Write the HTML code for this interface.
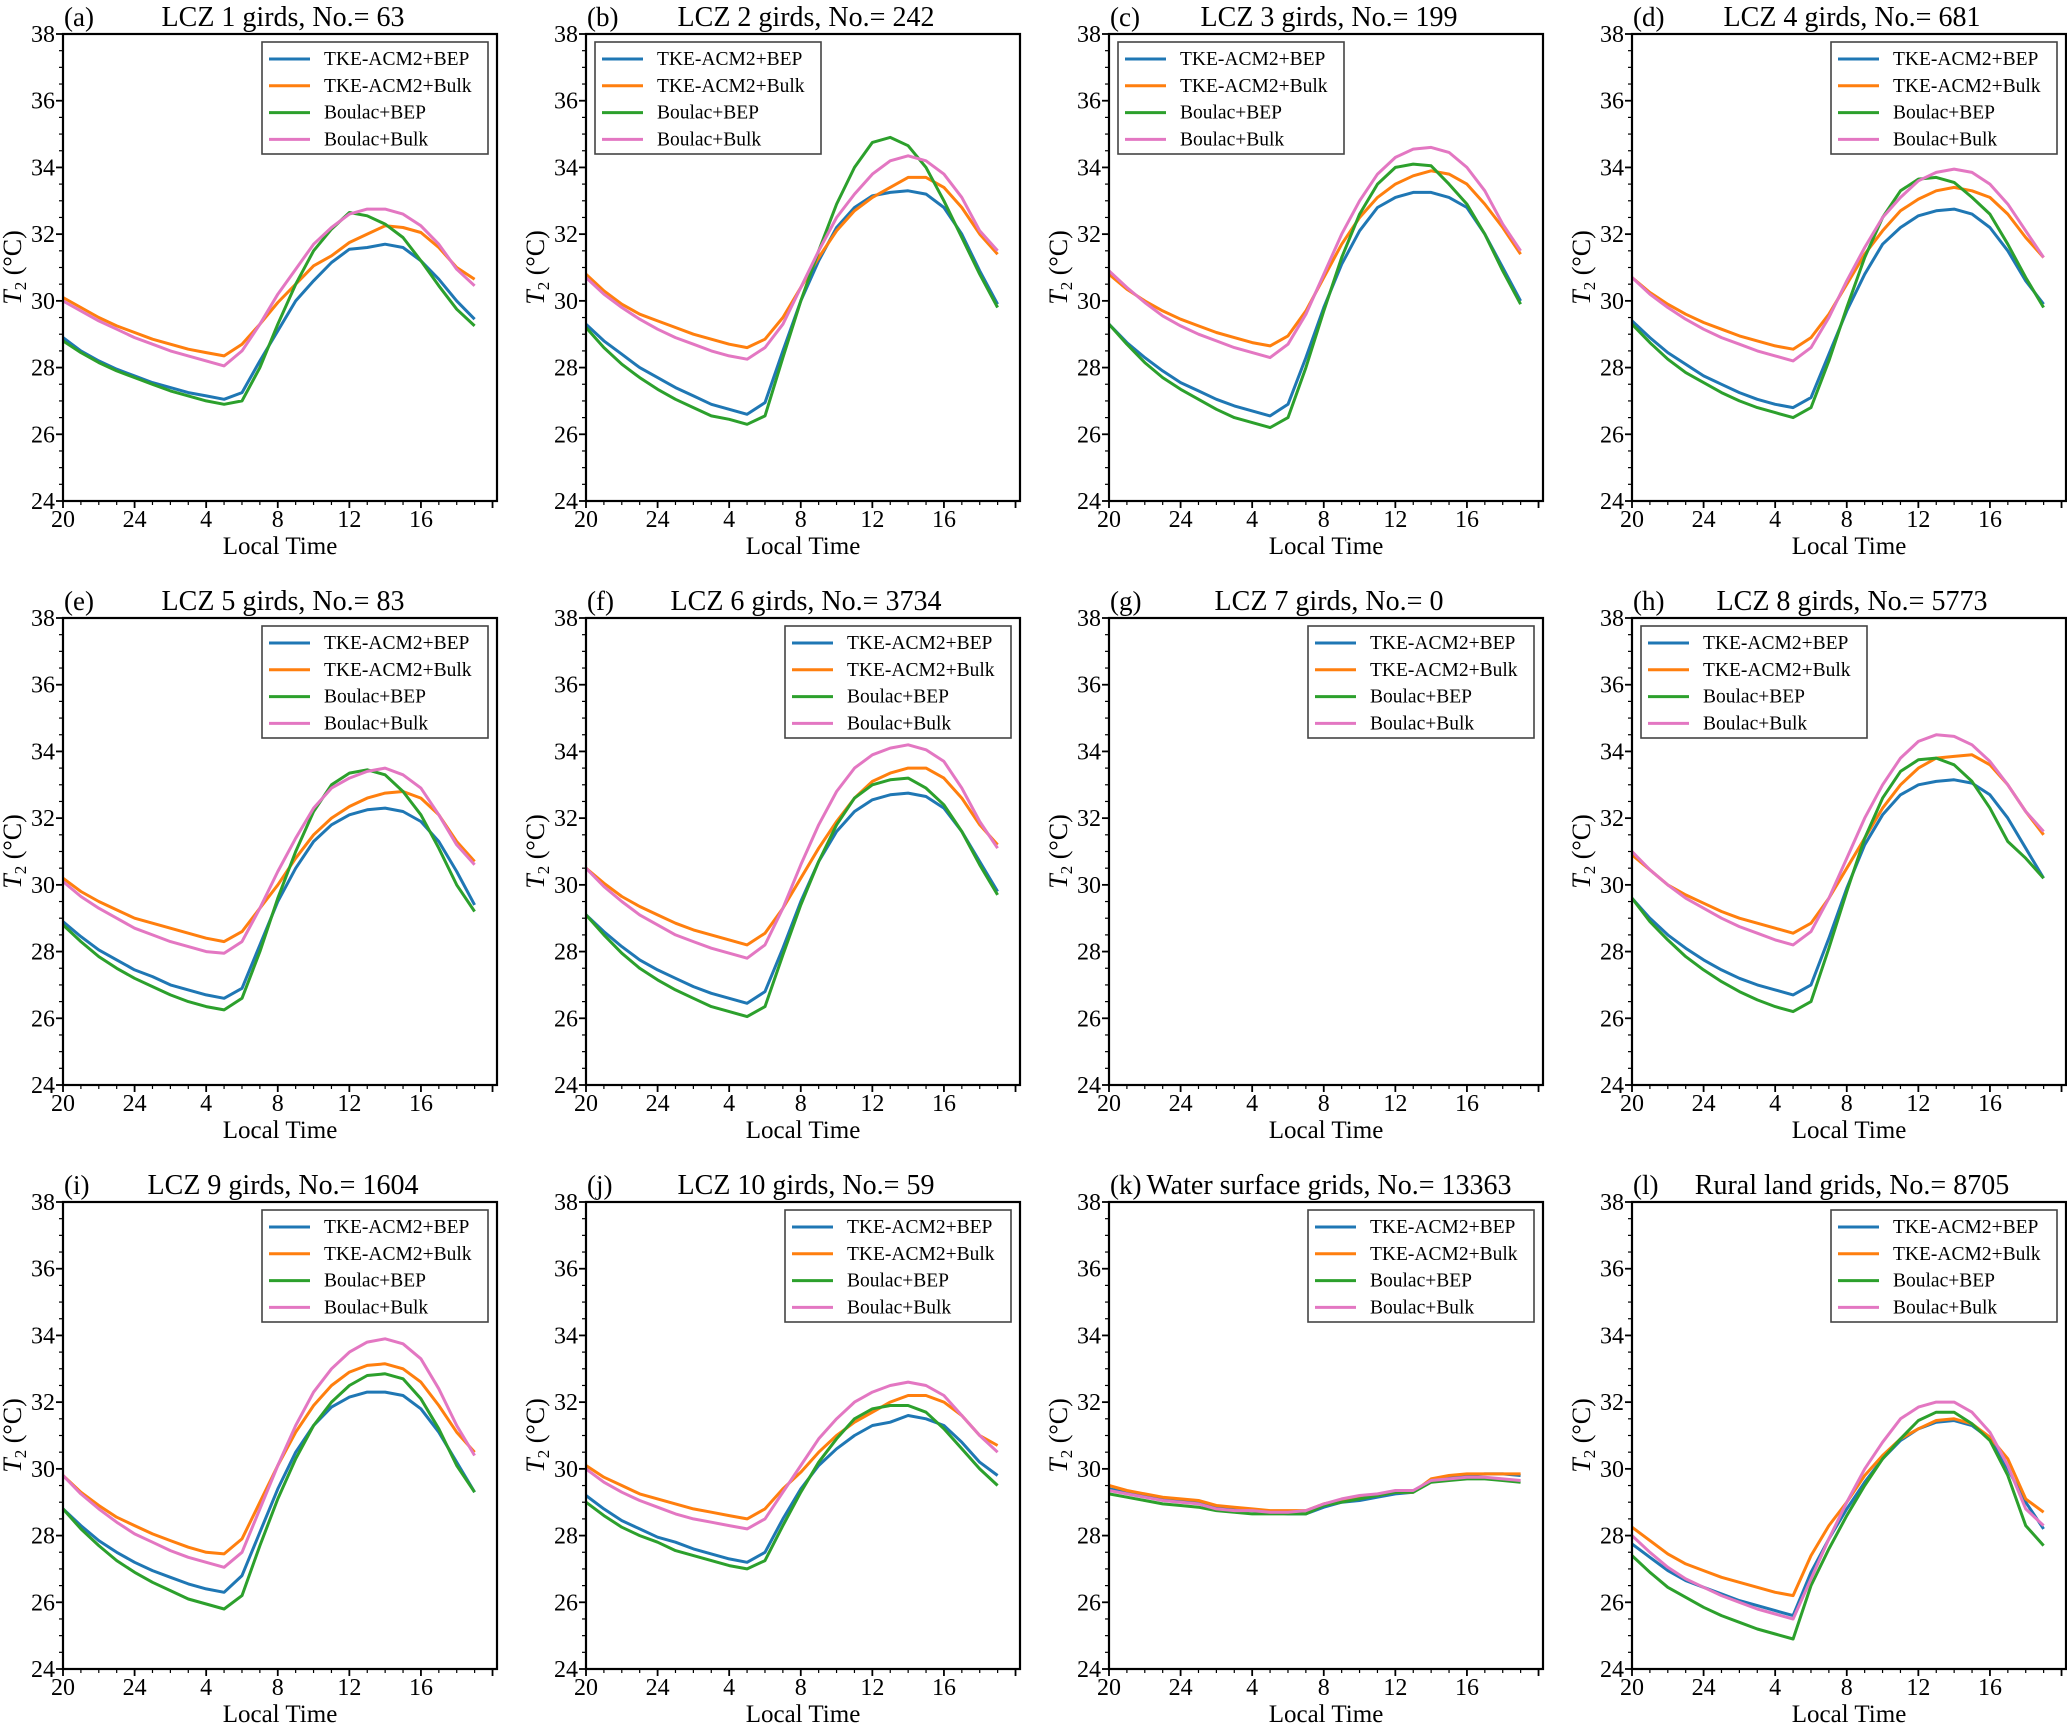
<!DOCTYPE html>
<html><head><meta charset="utf-8">
<style>
html,body{margin:0;padding:0;background:#fff;}
svg{display:block;font-family:"Liberation Serif",serif;}
</style></head>
<body>
<svg id="fig" width="2067" height="1724" viewBox="0 0 2067 1724" xmlns="http://www.w3.org/2000/svg"></svg>
<script>
const seriesNames = ["TKE-ACM2+BEP","TKE-ACM2+Bulk","Boulac+BEP","Boulac+Bulk"];
const seriesColors = ["#1f77b4","#ff7f0e","#2ca02c","#e377c2"];
const xTickPos = [0,4,8,12,16,20];
const xTickLabels = ["20","24","4","8","12","16"];
const yTicks = [24,26,28,30,32,34,36,38];
const panelLetters = ["(a)","(b)","(c)","(d)","(e)","(f)","(g)","(h)","(i)","(j)","(k)","(l)"];
const panelTitles = ["LCZ 1 girds, No.= 63","LCZ 2 girds, No.= 242","LCZ 3 girds, No.= 199","LCZ 4 girds, No.= 681","LCZ 5 girds, No.= 83","LCZ 6 girds, No.= 3734","LCZ 7 girds, No.= 0","LCZ 8 girds, No.= 5773","LCZ 9 girds, No.= 1604","LCZ 10 girds, No.= 59","Water surface grids, No.= 13363","Rural land grids, No.= 8705"];
const legendLeft = [false,true,true,false,false,false,false,true,false,false,false,false];

const aBlue=[28.9,28.5,28.2,27.95,27.75,27.55,27.4,27.25,27.15,27.05,27.25,28.2,29.1,30.0,30.6,31.15,31.55,31.6,31.7,31.6,31.2,30.65,30.0,29.45];
const aOrange=[30.1,29.8,29.5,29.25,29.05,28.85,28.7,28.55,28.45,28.35,28.7,29.3,29.95,30.5,31.05,31.35,31.75,32.0,32.25,32.2,32.05,31.6,31.0,30.65];
const aGreen=[28.8,28.45,28.15,27.9,27.7,27.5,27.3,27.15,27.0,26.9,27.0,28.0,29.3,30.5,31.5,32.15,32.65,32.55,32.3,31.9,31.2,30.45,29.75,29.25];
const aPink=[30.0,29.7,29.4,29.15,28.9,28.7,28.5,28.35,28.2,28.05,28.5,29.3,30.2,30.95,31.7,32.2,32.6,32.75,32.75,32.6,32.25,31.7,30.95,30.45];

const bBlue=[29.3,28.8,28.4,28.0,27.7,27.4,27.15,26.9,26.75,26.6,26.95,28.5,30.0,31.2,32.2,32.8,33.15,33.25,33.3,33.2,32.8,32.0,30.9,29.9];
const bOrange=[30.8,30.3,29.9,29.6,29.4,29.2,29.0,28.85,28.7,28.6,28.85,29.5,30.4,31.3,32.1,32.7,33.1,33.4,33.7,33.7,33.4,32.8,32.0,31.4];
const bGreen=[29.2,28.6,28.1,27.7,27.35,27.05,26.8,26.55,26.45,26.3,26.55,28.3,30.0,31.5,32.9,34.0,34.75,34.9,34.65,34.0,33.0,31.9,30.8,29.8];
const bPink=[30.7,30.2,29.8,29.45,29.15,28.9,28.7,28.5,28.35,28.25,28.6,29.3,30.4,31.5,32.5,33.2,33.8,34.2,34.35,34.2,33.8,33.1,32.1,31.5];

const cBlue=[29.3,28.75,28.3,27.9,27.55,27.3,27.05,26.85,26.7,26.55,26.9,28.3,29.8,31.1,32.1,32.8,33.1,33.25,33.25,33.1,32.8,32.0,31.0,30.0];
const cOrange=[30.8,30.35,30.0,29.7,29.45,29.25,29.05,28.9,28.75,28.65,28.95,29.7,30.7,31.7,32.5,33.1,33.5,33.75,33.9,33.8,33.5,32.9,32.2,31.4];
const cGreen=[29.3,28.7,28.15,27.7,27.35,27.05,26.75,26.5,26.35,26.2,26.5,28.0,29.7,31.3,32.6,33.5,34.0,34.1,34.05,33.5,32.9,32.0,30.9,29.9];
const cPink=[30.9,30.4,29.95,29.55,29.25,29.0,28.8,28.6,28.45,28.3,28.7,29.6,30.8,32.0,33.0,33.8,34.3,34.55,34.6,34.45,34.0,33.3,32.3,31.5];

const dBlue=[29.4,28.9,28.45,28.1,27.75,27.5,27.25,27.05,26.9,26.8,27.1,28.4,29.7,30.8,31.7,32.2,32.55,32.7,32.75,32.6,32.2,31.5,30.6,29.9];
const dOrange=[30.7,30.25,29.9,29.6,29.35,29.15,28.95,28.8,28.65,28.55,28.9,29.6,30.5,31.4,32.1,32.7,33.05,33.3,33.4,33.3,33.1,32.6,31.9,31.3];
const dGreen=[29.3,28.75,28.25,27.85,27.55,27.25,27.0,26.8,26.65,26.5,26.8,28.2,29.8,31.3,32.5,33.3,33.65,33.7,33.55,33.1,32.6,31.7,30.7,29.8];
const dPink=[30.7,30.2,29.8,29.45,29.15,28.9,28.7,28.5,28.35,28.2,28.6,29.5,30.6,31.6,32.5,33.1,33.6,33.85,33.95,33.85,33.5,32.9,32.1,31.3];

const eBlue=[28.9,28.45,28.05,27.75,27.45,27.25,27.0,26.85,26.7,26.6,26.9,28.2,29.5,30.5,31.3,31.8,32.1,32.25,32.3,32.2,31.9,31.3,30.4,29.4];
const eOrange=[30.2,29.8,29.5,29.25,29.0,28.85,28.7,28.55,28.4,28.3,28.6,29.3,30.0,30.8,31.5,32.0,32.35,32.6,32.75,32.8,32.6,32.1,31.3,30.7];
const eGreen=[28.8,28.3,27.85,27.5,27.2,26.95,26.7,26.5,26.35,26.25,26.6,28.0,29.6,31.0,32.2,33.0,33.35,33.45,33.3,32.8,32.1,31.1,30.0,29.2];
const ePink=[30.1,29.65,29.3,29.0,28.7,28.5,28.3,28.15,28.0,27.95,28.3,29.3,30.4,31.4,32.3,32.9,33.2,33.4,33.5,33.3,32.9,32.1,31.2,30.6];

const fBlue=[29.1,28.6,28.15,27.75,27.45,27.2,26.95,26.75,26.6,26.45,26.8,28.1,29.5,30.7,31.6,32.2,32.55,32.7,32.75,32.65,32.3,31.6,30.7,29.8];
const fOrange=[30.5,30.05,29.65,29.35,29.1,28.85,28.65,28.5,28.35,28.2,28.55,29.3,30.2,31.1,31.9,32.6,33.1,33.35,33.5,33.5,33.2,32.6,31.8,31.2];
const fGreen=[29.1,28.5,27.95,27.5,27.15,26.85,26.6,26.35,26.2,26.05,26.35,27.9,29.4,30.7,31.8,32.6,33.0,33.15,33.2,32.9,32.4,31.6,30.6,29.7];
const fPink=[30.5,29.95,29.5,29.1,28.8,28.5,28.3,28.1,27.95,27.8,28.2,29.3,30.6,31.8,32.8,33.5,33.9,34.1,34.2,34.05,33.7,32.9,31.9,31.1];

const hBlue=[29.6,29.0,28.5,28.1,27.75,27.45,27.2,27.0,26.85,26.7,27.0,28.4,29.9,31.2,32.1,32.7,33.0,33.1,33.15,33.05,32.7,32.0,31.1,30.2];
const hOrange=[30.9,30.45,30.0,29.7,29.45,29.2,29.0,28.85,28.7,28.55,28.85,29.6,30.5,31.4,32.3,33.0,33.5,33.8,33.85,33.9,33.6,33.0,32.2,31.5];
const hGreen=[29.6,28.9,28.35,27.85,27.45,27.1,26.8,26.55,26.35,26.2,26.5,28.1,29.8,31.4,32.6,33.4,33.75,33.8,33.6,33.1,32.3,31.3,30.8,30.2];
const hPink=[31.0,30.45,30.0,29.6,29.3,29.0,28.75,28.55,28.35,28.2,28.6,29.6,30.8,32.0,33.0,33.8,34.3,34.5,34.45,34.2,33.7,33.0,32.2,31.6];

const iBlue=[28.8,28.3,27.85,27.5,27.2,26.95,26.75,26.55,26.4,26.3,26.8,28.1,29.4,30.5,31.3,31.85,32.15,32.3,32.3,32.2,31.8,31.1,30.2,29.3];
const iOrange=[29.8,29.3,28.9,28.55,28.3,28.05,27.85,27.65,27.5,27.45,27.9,29.0,30.1,31.1,31.9,32.5,32.9,33.1,33.15,33.0,32.6,31.9,31.1,30.5];
const iGreen=[28.8,28.2,27.7,27.25,26.9,26.6,26.35,26.1,25.95,25.8,26.2,27.7,29.1,30.3,31.3,32.0,32.5,32.8,32.85,32.7,32.1,31.2,30.1,29.3];
const iPink=[29.8,29.25,28.8,28.4,28.05,27.8,27.55,27.35,27.2,27.05,27.5,28.8,30.1,31.3,32.3,33.0,33.5,33.8,33.9,33.75,33.3,32.4,31.3,30.4];

const jBlue=[29.2,28.8,28.45,28.2,27.95,27.8,27.6,27.45,27.3,27.2,27.5,28.5,29.4,30.1,30.6,31.0,31.3,31.4,31.6,31.5,31.3,30.8,30.2,29.8];
const jOrange=[30.1,29.75,29.5,29.25,29.1,28.95,28.8,28.7,28.6,28.5,28.8,29.4,29.9,30.5,31.0,31.4,31.7,32.0,32.2,32.2,32.0,31.6,31.0,30.7];
const jGreen=[29.0,28.6,28.25,28.0,27.8,27.55,27.4,27.25,27.1,27.0,27.25,28.3,29.3,30.2,30.9,31.5,31.8,31.9,31.9,31.7,31.2,30.6,30.0,29.5];
const jPink=[30.0,29.6,29.3,29.05,28.85,28.65,28.5,28.4,28.3,28.2,28.5,29.3,30.1,30.9,31.5,32.0,32.3,32.5,32.6,32.5,32.2,31.6,31.0,30.5];

const kBlue=[29.4,29.3,29.2,29.1,29.05,29.0,28.85,28.8,28.75,28.7,28.65,28.65,28.85,29.0,29.05,29.15,29.25,29.3,29.65,29.75,29.8,29.85,29.85,29.8];
const kOrange=[29.5,29.35,29.25,29.15,29.1,29.05,28.9,28.85,28.8,28.75,28.75,28.75,28.95,29.05,29.15,29.2,29.3,29.3,29.7,29.8,29.85,29.85,29.85,29.85];
const kGreen=[29.25,29.15,29.05,28.95,28.9,28.85,28.75,28.7,28.65,28.65,28.65,28.65,28.9,29.0,29.1,29.2,29.3,29.3,29.6,29.65,29.7,29.7,29.65,29.6];
const kPink=[29.35,29.25,29.15,29.05,29.0,28.95,28.8,28.75,28.75,28.7,28.7,28.75,28.95,29.1,29.2,29.25,29.35,29.35,29.65,29.7,29.75,29.75,29.7,29.65];

const lBlue=[27.75,27.35,26.95,26.65,26.45,26.25,26.05,25.9,25.75,25.6,26.9,27.9,28.8,29.6,30.3,30.85,31.2,31.4,31.45,31.3,30.9,30.0,29.0,28.2];
const lOrange=[28.25,27.85,27.45,27.15,26.95,26.75,26.6,26.45,26.3,26.2,27.4,28.3,29.0,29.8,30.4,30.9,31.2,31.45,31.5,31.35,30.95,30.3,29.1,28.7];
const lGreen=[27.4,26.9,26.45,26.15,25.85,25.6,25.4,25.2,25.05,24.9,26.5,27.6,28.6,29.5,30.3,30.9,31.45,31.7,31.7,31.35,30.85,29.8,28.3,27.7];
const lPink=[28.0,27.5,27.05,26.7,26.45,26.2,26.0,25.8,25.65,25.5,26.7,27.9,29.0,30.0,30.8,31.5,31.85,32.0,32.0,31.7,31.1,30.1,28.8,28.3];

const panelData = [
 [aBlue,aOrange,aGreen,aPink],[bBlue,bOrange,bGreen,bPink],[cBlue,cOrange,cGreen,cPink],[dBlue,dOrange,dGreen,dPink],
 [eBlue,eOrange,eGreen,ePink],[fBlue,fOrange,fGreen,fPink],[],[hBlue,hOrange,hGreen,hPink],
 [iBlue,iOrange,iGreen,iPink],[jBlue,jOrange,jGreen,jPink],[kBlue,kOrange,kGreen,kPink],[lBlue,lOrange,lGreen,lPink]
];

const NS="http://www.w3.org/2000/svg";
const svg=document.getElementById('fig');
function mk(tag,attrs,parent){const e=document.createElementNS(NS,tag);for(const k in attrs)e.setAttribute(k,attrs[k]);(parent||svg).appendChild(e);return e;}

const colX=[63,586,1109,1632], rowY=[34,618,1202], W=434, H=467;
const XMAX=24.25, YMIN=24, YMAX=38;

panelData.forEach((series,p)=>{
  const x0=colX[p%4], y0=rowY[Math.floor(p/4)];
  const sx=v=>x0+v/XMAX*W;
  const sy=v=>y0+H-(v-YMIN)/(YMAX-YMIN)*H;
  const g=mk('g',{});
  
  
  series.forEach((vals,s)=>{
    const pts=vals.map((v,i)=>sx(i).toFixed(1)+','+sy(v).toFixed(1)).join(' ');
    const pl=mk('polyline',{points:pts,fill:'none',stroke:seriesColors[s],'stroke-width':3,'stroke-linejoin':'round'},g);
    
    
  });
  const fr=mk('rect',{x:x0,y:y0,width:W,height:H,fill:'none',stroke:'#000','stroke-width':2.2},g);
  
  
  for(let h=0;h<=24;h++){
    const maj=h%4===0;
    mk('line',{x1:sx(h),x2:sx(h),y1:y0+H,y2:y0+H+(maj?7:4),stroke:'#000','stroke-width':maj?1.8:1.2},g);
  }
  xTickPos.forEach((t,i)=>{
    const tx=mk('text',{x:sx(t),y:y0+H+26,'text-anchor':'middle','font-size':24},g);
    tx.textContent=xTickLabels[i];
    
    
  });
  for(let v=YMIN;v<=YMAX+0.001;v+=0.5){
    const maj=Math.abs(v-Math.round(v))<0.01 && Math.round(v)%2===0;
    mk('line',{x1:x0,x2:x0-(maj?7:4),y1:sy(v),y2:sy(v),stroke:'#000','stroke-width':maj?1.8:1.2},g);
  }
  yTicks.forEach(v=>{
    const tx=mk('text',{x:x0-8,y:sy(v)+8,'text-anchor':'end','font-size':24},g);
    tx.textContent=String(v);
    
    
  });
  const xl=mk('text',{x:x0+W/2,y:y0+H+53,'text-anchor':'middle','font-size':25},g);
  xl.textContent='Local Time';
  
  
  const yl=mk('text',{x:0,y:0,'text-anchor':'middle','font-size':26,transform:`translate(${x0-42},${y0+H/2}) rotate(-90)`},g);
  yl.innerHTML='<tspan font-style="italic">T</tspan><tspan font-size="17" dy="5">2</tspan><tspan dy="-5"> (°C)</tspan>';
  
  
  const lt=mk('text',{x:x0+1,y:y0-8,'font-size':27},g);
  lt.textContent=panelLetters[p];
  
  
  const tt=mk('text',{x:x0+W/2+3,y:y0-8,'text-anchor':'middle','font-size':28},g);
  tt.textContent=panelTitles[p];
  
  
  const lw=226, lh=112;
  const lx=legendLeft[p]? x0+9 : x0+W-9-lw, ly=y0+8;
  const lg=mk('g',{},g);
  
  
  mk('rect',{x:lx,y:ly,width:lw,height:lh,fill:'#fff',stroke:'#444','stroke-width':1.6},lg);
  seriesNames.forEach((n,s)=>{
    const ry=ly+17+s*26.8;
    mk('line',{x1:lx+7,x2:lx+48,y1:ry,y2:ry,stroke:seriesColors[s],'stroke-width':3},lg);
    const et=mk('text',{x:lx+62,y:ry+6,'font-size':19.5},lg);
    et.textContent=n;
    
    
  });
});
</script>
</body></html>
